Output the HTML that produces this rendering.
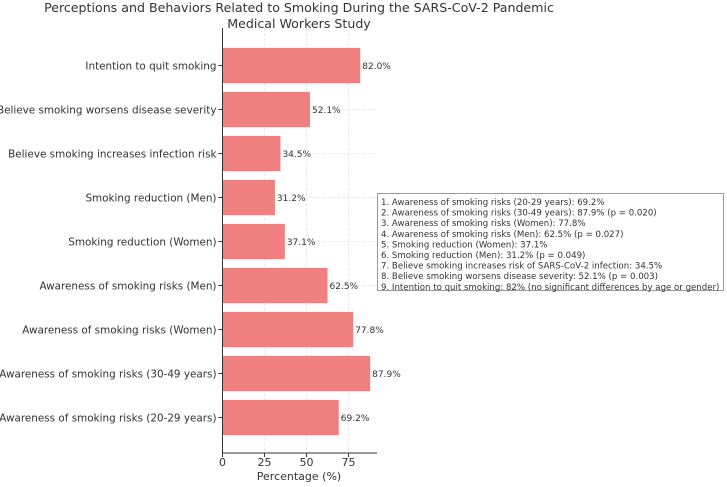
<!DOCTYPE html>
<html><head><meta charset="utf-8"><style>
body{margin:0;background:#fff;}
svg{font-family:"DejaVu Sans","Liberation Sans",sans-serif;}
</style></head><body>
<svg id="c" width="727" height="482"></svg>
<script>
const categories=["Intention to quit smoking","Believe smoking worsens disease severity","Believe smoking increases infection risk","Smoking reduction (Men)","Smoking reduction (Women)","Awareness of smoking risks (Men)","Awareness of smoking risks (Women)","Awareness of smoking risks (30-49 years)","Awareness of smoking risks (20-29 years)"];
const values=[82.0,52.1,34.5,31.2,37.1,62.5,77.8,87.9,69.2];
const ticks=[0,25,50,75];
const notes=["1. Awareness of smoking risks (20-29 years): 69.2%","2. Awareness of smoking risks (30-49 years): 87.9% (p = 0.020)","3. Awareness of smoking risks (Women): 77.8%","4. Awareness of smoking risks (Men): 62.5% (p = 0.027)","5. Smoking reduction (Women): 37.1%","6. Smoking reduction (Men): 31.2% (p = 0.049)","7. Believe smoking increases risk of SARS-CoV-2 infection: 34.5%","8. Believe smoking worsens disease severity: 52.1% (p = 0.003)","9. Intention to quit smoking: 82% (no significant differences by age or gender)"];
const svg=document.getElementById('c');const NS='http://www.w3.org/2000/svg';
function mk(t,a,p){const e=document.createElementNS(NS,t);for(const k in a)e.setAttribute(k,a[k]);(p||svg).appendChild(e);return e;}
const x0=222.5,xr=377,pxu=1.68,yTop=28,yBot=453,step=44,firstC=65.5;
const X=v=>x0+v*pxu, Y=i=>firstC+i*step;
let t;
t=mk('text',{x:299,y:12,'text-anchor':'middle','font-size':12.6,fill:'#333'});t.textContent='Perceptions and Behaviors Related to Smoking During the SARS-CoV-2 Pandemic';

t=mk('text',{x:299,y:28,'text-anchor':'middle','font-size':12.6,fill:'#333'});t.textContent='Medical Workers Study';

ticks.forEach(v=>{const g=mk('line',{x1:X(v),x2:X(v),y1:yTop,y2:yBot,stroke:'#e4e4e4','stroke-dasharray':'3,2','stroke-width':0.8});

mk('line',{x1:X(v),x2:X(v),y1:yBot,y2:yBot+4,stroke:'#333'});
const l=mk('text',{x:X(v),y:466,'text-anchor':'middle','font-size':11,fill:'#333'});l.textContent=v;
});
categories.forEach((c,i)=>{const y=Y(i);
const g=mk('line',{x1:x0,x2:xr,y1:y,y2:y,stroke:'#e4e4e4','stroke-dasharray':'3,2','stroke-width':0.8});

const b=mk('rect',{x:x0,y:y-17.6,width:values[i]*pxu,height:35.2,fill:'#f08080'});

mk('line',{x1:x0-4,x2:x0,y1:y,y2:y,stroke:'#333'});
const l=mk('text',{x:x0-6,y:y+4,'text-anchor':'end','font-size':10.4,fill:'#333'});l.textContent=c;

const v=mk('text',{x:X(values[i])+2,y:y+3.5,'font-size':9,fill:'#333'});v.textContent=values[i].toFixed(1)+'%';
});
mk('line',{x1:x0,x2:x0,y1:yTop,y2:yBot,stroke:'#333','stroke-width':1});
mk('line',{x1:x0,x2:xr,y1:yBot,y2:yBot,stroke:'#333','stroke-width':1});
t=mk('text',{x:299,y:480,'text-anchor':'middle','font-size':11,fill:'#333'});t.textContent='Percentage (%)';

const bx=mk('rect',{x:377.5,y:193.5,width:346,height:97,fill:'#fff',stroke:'#999'});

notes.forEach((n,i)=>{const e=mk('text',{x:381,y:205+i*10.6,'font-size':8.6,fill:'#333'});e.textContent=n;
});
</script>
</body></html>
